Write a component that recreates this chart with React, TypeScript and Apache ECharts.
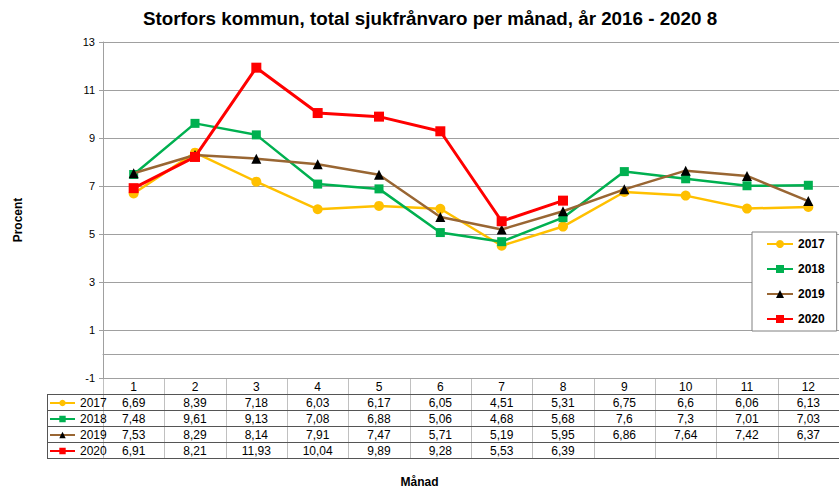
import React, { useEffect, useRef } from "react";
import * as echarts from "echarts";

const months = ["1", "2", "3", "4", "5", "6", "7", "8", "9", "10", "11", "12"];
const seriesNames = ["2017", "2018", "2019", "2020"];
const v2017 = [6.69, 8.39, 7.18, 6.03, 6.17, 6.05, 4.51, 5.31, 6.75, 6.6, 6.06, 6.13];
const v2018 = [7.48, 9.61, 9.13, 7.08, 6.88, 5.06, 4.68, 5.68, 7.6, 7.3, 7.01, 7.03];
const v2019 = [7.53, 8.29, 8.14, 7.91, 7.47, 5.71, 5.19, 5.95, 6.86, 7.64, 7.42, 6.37];
const v2020: (number | null)[] = [6.91, 8.21, 11.93, 10.04, 9.89, 9.28, 5.53, 6.39, null, null, null, null];
const yTicksMin = -1;
const yTicksMax = 13;
const yTickStep = 2;

const allValues = [v2017, v2018, v2019, v2020];
const lineColors = ["#FFC000", "#00B050", "#996633", "#FF0000"];
const markerColors = ["#FFC000", "#00B050", "#000000", "#FF0000"];
const symbols = ["circle", "rect", "triangle", "rect"];
const symbolSizes = [10, 9, 10, 10];
const lineWidths = [2.5, 2.5, 2.5, 3];

// layout
const W = 839;
const H = 491;
const GRID_LEFT = 103;
const GRID_TOP = 42;
const GRID_BOTTOM_Y = 378;
const ROW_H = 16;
const TABLE_LEFT = 47;

const fmt = (v: number | null) => (v == null ? "" : String(v).replace(".", ","));

export default function App() {
  const ref = useRef<HTMLDivElement>(null);
  useEffect(() => {
    const chart = echarts.init(ref.current!, null, { renderer: "svg" });
    const font = "Liberation Sans, Arial, sans-serif";

    const tableAxes = allValues.map((vals, i) => ({
      type: "category" as const,
      gridIndex: 0,
      position: "bottom" as const,
      offset: ROW_H * (i + 1),
      data: vals.map(fmt),
      boundaryGap: true,
      axisLine: { show: false },
      axisTick: { show: false },
      splitLine: { show: false },
      splitArea: { show: false },
      axisLabel: { interval: 0, margin: 3, fontSize: 12, color: "#000", fontFamily: font },
    }));

    const tableBottom = GRID_BOTTOM_Y + ROW_H * 5;
    const lines: any[] = [];
    const colW = (W - GRID_LEFT) / months.length;
    for (let c = 0; c <= months.length; c++) {
      const x = Math.round(GRID_LEFT + colW * c) + 0.5;
      lines.push({
        type: "line",
        shape: { x1: x, y1: GRID_BOTTOM_Y, x2: x, y2: tableBottom },
        style: { stroke: "#c0c0c0", lineWidth: 1 },
        silent: true,
      });
    }
    for (let r = 1; r <= 5; r++) {
      const y = GRID_BOTTOM_Y + ROW_H * r + 0.5;
      lines.push({
        type: "line",
        shape: { x1: TABLE_LEFT, y1: y, x2: W, y2: y },
        style: { stroke: "#555", lineWidth: 1 },
        silent: true,
      });
    }
    lines.push({
      type: "line",
      shape: { x1: TABLE_LEFT + 0.5, y1: GRID_BOTTOM_Y + ROW_H, x2: TABLE_LEFT + 0.5, y2: tableBottom + 0.5 },
      style: { stroke: "#555", lineWidth: 1 },
      silent: true,
    });

    chart.setOption({
      animation: false,
      backgroundColor: "#fff",
      textStyle: { fontFamily: font },
      title: [
        {
          text: "Storfors kommun, total sjukfrånvaro per månad, år 2016 - 2020 8",
          left: 143,
          top: 9,
          padding: 0,
          textStyle: { fontSize: 18.8, fontWeight: "bold", color: "#000", fontFamily: font },
        },
        {
          text: "Månad",
          left: "center",
          top: 476,
          padding: 0,
          textStyle: { fontSize: 12, fontWeight: "bold", color: "#000", fontFamily: font },
        },
      ],
      legend: [
        {
          data: seriesNames,
          orient: "vertical",
          left: 752,
          top: 232,
          itemGap: 13,
          itemWidth: 26,
          itemHeight: 10,
          padding: [6, 12, 6, 14],
          borderColor: "#808080",
          borderWidth: 1,
          backgroundColor: "#fff",
          selectedMode: false,
          textStyle: { fontSize: 12, fontWeight: "bold", color: "#000", fontFamily: font },
        },
        {
          data: seriesNames,
          orient: "vertical",
          left: 49,
          top: GRID_BOTTOM_Y + ROW_H + 3,
          itemGap: 4,
          itemWidth: 25,
          itemHeight: 8,
          padding: 0,
          selectedMode: false,
          textStyle: { fontSize: 12, color: "#000", fontFamily: font },
        },
      ],
      grid: { left: GRID_LEFT, right: 0, top: GRID_TOP, bottom: H - GRID_BOTTOM_Y, containLabel: false },
      xAxis: [
        {
          type: "category",
          data: months,
          boundaryGap: true,
          axisLine: { show: true, lineStyle: { color: "#a0a0a0", width: 1 } },
          axisTick: { show: false },
          axisLabel: { interval: 0, margin: 3, fontSize: 12, color: "#000", fontFamily: font },
          splitLine: { show: false },
          splitArea: { show: false },
        },
        ...tableAxes,
      ],
      yAxis: {
        type: "value",
        min: yTicksMin,
        max: yTicksMax,
        interval: yTickStep,
        axisLine: { show: true, lineStyle: { color: "#a0a0a0" } },
        axisTick: { show: true, length: 4, lineStyle: { color: "#a0a0a0" } },
        axisLabel: { fontSize: 11, color: "#000", margin: 8, fontFamily: font },
        splitLine: { show: true, lineStyle: { color: "#a0a0a0", width: 1 } },
      },
      graphic: [
        ...lines,
        {
          type: "text",
          x: 18,
          y: 220,
          rotation: Math.PI / 2,
          style: {
            text: "Procent",
            fontSize: 12,
            fontWeight: "bold",
            fill: "#000",
            fontFamily: font,
            align: "center",
            verticalAlign: "middle",
          },
        },
      ],
      series: allValues.map((vals, i) => ({
        name: seriesNames[i],
        type: "line",
        xAxisIndex: 0,
        data: vals,
        symbol: symbols[i],
        symbolSize: symbolSizes[i],
        showSymbol: true,
        connectNulls: false,
        lineStyle: { color: lineColors[i], width: lineWidths[i] },
        itemStyle: { color: markerColors[i], borderWidth: 0 },
        z: 2 + i,
      })),
    });
    return () => chart.dispose();
  }, []);
  return <div ref={ref} style={{ position: "fixed", left: 0, top: 0, width: W, height: H }} />;
}
